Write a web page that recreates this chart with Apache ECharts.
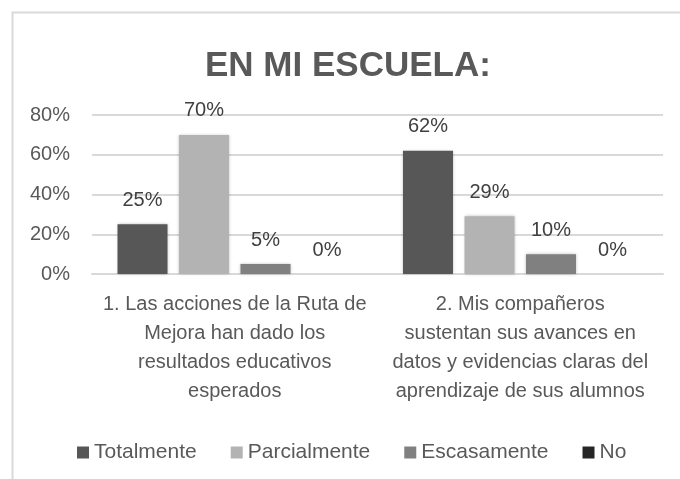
<!DOCTYPE html>
<html>
<head>
<meta charset="utf-8">
<script src="https://cdn.jsdelivr.net/npm/echarts@6/dist/echarts.min.js"></script>
<style>
  html, body { margin: 0; padding: 0; background: #fff; }
  #main { width: 680px; height: 479px; }
</style>
</head>
<body>
<div id="main"></div>
<script type="text/javascript">
    var categories  = ['1. Las acciones de la Ruta de\nMejora han dado los\nresultados educativos\nesperados',
                       '2. Mis compañeros\nsustentan sus avances en\ndatos y evidencias claras del\naprendizaje de sus alumnos'];
    var seriesNames = ['Totalmente', 'Parcialmente', 'Escasamente', 'No'];
    var totalmente   = [25, 62];
    var parcialmente = [70, 29];
    var escasamente  = [5, 10];
    var no           = [0, 0];
    var yTicks       = [0, 20, 40, 60, 80];

    var myChart = echarts.init(document.getElementById('main'));
    var font = 'Liberation Sans';
    var colors = ['#575757', '#b3b3b3', '#808080', '#262626'];
    var metaData = [totalmente, parcialmente, escasamente, no];

    var serieData = [];
    for (var v = 0; v < seriesNames.length; v++) {
        serieData.push({
            name: seriesNames[v],
            type: 'bar',
            barWidth: 50,
            barGap: '23%',
            data: metaData[v],
            itemStyle: { color: colors[v], shadowColor: 'rgba(0,0,0,0.25)', shadowBlur: 3 },
            label: {
                show: true, position: 'top', distance: 14,
                formatter: '{c}%',
                color: '#404040', fontSize: 20, fontFamily: font
            }
        });
    }

    var option = {
        backgroundColor: '#ffffff',
        color: colors,
        animation: false,
        title: {
            text: 'EN MI ESCUELA:', left: 200, top: 44,
            textStyle: { color: '#595959', fontSize: 35, fontWeight: 'bold', fontFamily: font }
        },
        graphic: [{
            type: 'rect', left: 10, top: 10, silent: true,
            shape: { width: 720, height: 520 },
            style: { fill: 'none', stroke: '#d9d9d9', lineWidth: 2 }
        }],
        legend: {
            data: seriesNames, top: 437, left: 72,
            itemWidth: 12, itemHeight: 12, itemGap: 34,
            icon: 'rect',
            textStyle: { color: '#595959', fontSize: 21, fontFamily: font }
        },
        grid: { left: 92, right: 17, top: 115, bottom: 205 },
        xAxis: {
            type: 'category',
            data: categories,
            axisLine: { show: true, lineStyle: { color: '#d9d9d9', width: 2 } },
            axisTick: { show: false },
            axisLabel: {
                interval: 0, margin: 16, lineHeight: 29,
                color: '#595959', fontSize: 20, fontFamily: font
            }
        },
        yAxis: {
            type: 'value', min: yTicks[0], max: yTicks[yTicks.length - 1], interval: 20,
            axisLine: { show: false },
            axisTick: { show: false },
            splitLine: { lineStyle: { color: '#d9d9d9', width: 2 } },
            axisLabel: {
                margin: 22, formatter: '{value}%',
                color: '#595959', fontSize: 20, fontFamily: font
            }
        },
        series: serieData
    };
    myChart.setOption(option);
</script>
</body>
</html>
